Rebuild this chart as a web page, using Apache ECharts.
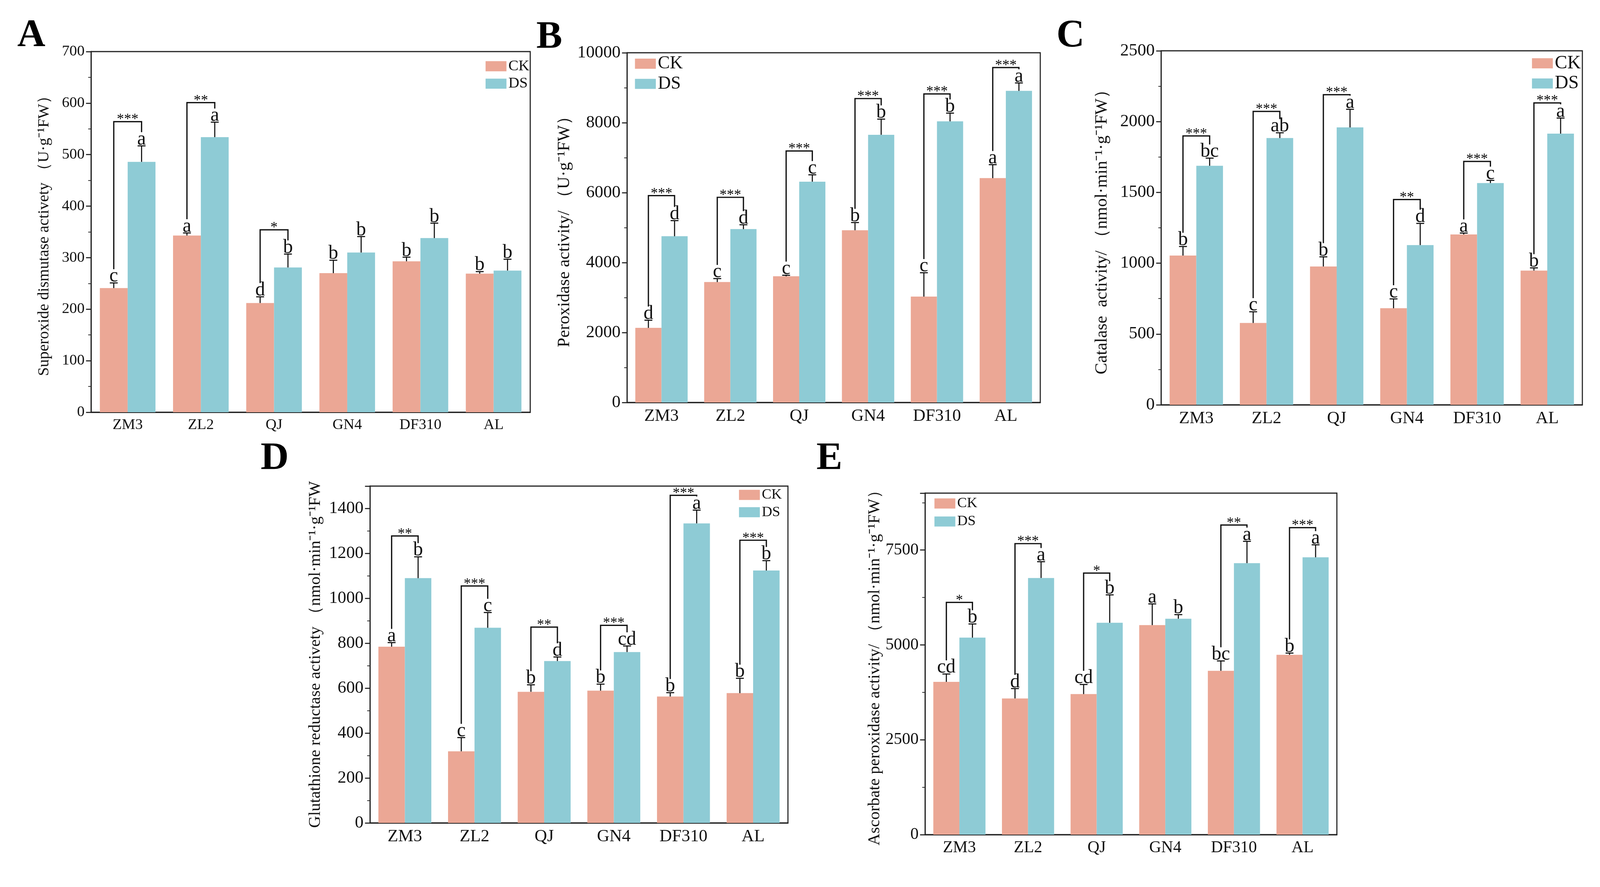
<!DOCTYPE html>
<html>
<head>
<meta charset="utf-8">
<title>Antioxidant enzyme activities</title>
<script src="https://cdn.jsdelivr.net/npm/echarts@6/dist/echarts.min.js"></script>
<style>
html, body { margin: 0; padding: 0; background: #fff; overflow: hidden; }
#main { width: 100vw; height: 100vh; }
</style>
</head>
<body>
<div id="main"></div>
<script>
var groups = ['ZM3', 'ZL2', 'QJ', 'GN4', 'DF310', 'AL'];

// A - superoxide dismutase
var sodCK = [241, 343, 212, 270, 293, 269];
var sodCKErr = [10, 5, 12, 25, 8, 4];
var sodDS = [486, 534, 281, 310, 338, 275];
var sodDSErr = [31, 29, 26, 31, 29, 22];
var sodCKLetter = ['c', 'a', 'd', 'b', 'b', 'b'];
var sodDSLetter = ['a', 'a', 'b', 'b', 'b', 'b'];
var sodSig = ['***', '**', '*', '', '', ''];
var sodBracket = [564, 601, 354, 0, 0, 0];

// B - peroxidase
var podCK = [2133, 3443, 3608, 4925, 3027, 6415];
var podCKErr = [220, 100, 30, 220, 683, 385];
var podDS = [4753, 4957, 6314, 7655, 8039, 8910];
var podDSErr = [447, 125, 196, 447, 235, 227];
var podCKLetter = ['d', 'c', 'c', 'b', 'c', 'a'];
var podDSLetter = ['d', 'd', 'c', 'b', 'b', 'a'];
var podSig = ['***', '***', '***', '***', '***', '***'];
var podBracket = [5914, 5866, 7192, 8690, 8823, 9576];

// C - catalase
var catCK = [1054, 578, 977, 682, 1203, 948];
var catCKErr = [64, 79, 68, 66, 10, 19];
var catDS = [1688, 1884, 1959, 1128, 1566, 1915];
var catDSErr = [54, 37, 128, 153, 19, 110];
var catCKLetter = ['b', 'c', 'b', 'c', 'a', 'b'];
var catDSLetter = ['bc', 'ab', 'a', 'd', 'c', 'a'];
var catSig = ['***', '***', '***', '**', '***', '***'];
var catBracket = [1899, 2072, 2190, 1450, 1719, 2132];

// D - glutathione reductase
var grCK = [785, 319, 584, 589, 563, 578];
var grCKErr = [18, 61, 31, 29, 17, 66];
var grDS = [1090, 869, 721, 761, 1334, 1124];
var grDSErr = [95, 68, 18, 27, 59, 44];
var grCKLetter = ['a', 'c', 'b', 'b', 'b', 'b'];
var grDSLetter = ['b', 'c', 'd', 'cd', 'a', 'b'];
var grSig = ['**', '***', '**', '***', '***', '***'];
var grBracket = [1278, 1055, 872, 880, 1459, 1259];

// E - ascorbate peroxidase
var apxCK = [4026, 3589, 3704, 5522, 4318, 4739];
var apxCKErr = [207, 261, 253, 559, 260, 46];
var apxDS = [5192, 6764, 5583, 5690, 7155, 7309];
var apxDSErr = [360, 429, 736, 108, 575, 329];
var apxCKLetter = ['cd', 'd', 'cd', 'a', 'bc', 'b'];
var apxDSLetter = ['b', 'a', 'b', 'b', 'a', 'a'];
var apxSig = ['*', '***', '*', '', '**', '***'];
var apxBracket = [6120, 7669, 6894, 0, 8160, 8091];

// y axes
var yMax = [700, 10000, 2500, 1500, 9000];
var yStep = [100, 2000, 500, 200, 2500];
var yNames = [
    'Superoxide dismutase activety （U·g⁻¹FW）',
    'Peroxidase activity/ （U·g⁻¹FW）',
    'Catalase  activity/ （nmol·min⁻¹·g⁻¹FW）',
    'Glutathione reductase activety （nmol·min⁻¹·g⁻¹FW',
    'Ascorbate peroxidase activity/ （nmol·min⁻¹·g⁻¹FW）'
];
var panelTags = ['A', 'B', 'C', 'D', 'E'];

var ckColor = '#EBA795';
var dsColor = '#8ECBD5';
var ink = '#111';
var serif = '"Liberation Serif", "Times New Roman", serif';

var panelData = [
    [sodCK, sodCKErr, sodDS, sodDSErr, sodCKLetter, sodDSLetter, sodSig, sodBracket],
    [podCK, podCKErr, podDS, podDSErr, podCKLetter, podDSLetter, podSig, podBracket],
    [catCK, catCKErr, catDS, catDSErr, catCKLetter, catDSLetter, catSig, catBracket],
    [grCK, grCKErr, grDS, grDSErr, grCKLetter, grDSLetter, grSig, grBracket],
    [apxCK, apxCKErr, apxDS, apxDSErr, apxCKLetter, apxDSLetter, apxSig, apxBracket]
];

// layout of each panel, in pixels of a 4445 x 2270 page
var layout = [
    {grid: [253, 132, 1220, 923], tag: [48, 42], font: 42, nameFont: 44, nameGap: 108, legend: [1349, 150], legFont: 42, legGap: 6},
    {grid: [1742, 135, 1148, 895], tag: [1490, 46], font: 48, nameFont: 48, nameGap: 150, legend: [1764, 140], legFont: 50, legGap: 6},
    {grid: [3226, 130, 1170, 906], tag: [2935, 42], font: 48, nameFont: 48, nameGap: 140, legend: [4256, 138], legFont: 52, legGap: 4},
    {grid: [1028, 1244, 1161, 862], tag: [724, 1124], font: 48, nameFont: 46, nameGap: 128, legend: [2053, 1248], legFont: 40, legGap: 8},
    {grid: [2570, 1262, 1144, 874], tag: [2268, 1124], font: 46, nameFont: 46, nameGap: 116, legend: [2596, 1270], legFont: 40, legGap: 10}
];

// scale everything to the real page size
var sx = window.innerWidth / 4445;
var sy = window.innerHeight / 2270;
var s = Math.min(sx, sy);

function errRender(side, letters) {
    return function (params, api) {
        var ci = api.value(0);
        var v = api.value(1);
        var e = api.value(2);
        var band = api.size([1, 0])[0];
        var top = api.coord([ci, v + e]);
        var base = api.coord([ci, v]);
        var x = top[0] + side * band * 0.19;
        return {
            type: 'group',
            children: [
                {type: 'line', shape: {x1: x, y1: base[1], x2: x, y2: top[1]}, style: {stroke: ink, lineWidth: 3 * s}},
                {type: 'line', shape: {x1: x - 11 * s, y1: top[1], x2: x + 11 * s, y2: top[1]}, style: {stroke: ink, lineWidth: 3 * s}},
                {type: 'text', x: x, y: top[1] + 9 * s, style: {text: letters[params.dataIndex], fill: ink, font: Math.round(54 * s) + 'px ' + serif, align: 'center', verticalAlign: 'bottom'}}
            ]
        };
    };
}

function bracketRender(sig) {
    return function (params, api) {
        var t = sig[params.dataIndex];
        if (!t) return null;
        var ci = api.value(0);
        var band = api.size([1, 0])[0];
        var yb = api.coord([ci, api.value(1)]);
        var yl = api.coord([ci, api.value(2)])[1] - 38 * s;
        var yr = api.coord([ci, api.value(3)])[1] - 38 * s;
        var xl = yb[0] - band * 0.19;
        var xr = yb[0] + band * 0.19;
        return {
            type: 'group',
            children: [
                {type: 'polyline', shape: {points: [[xl, yl], [xl, yb[1]], [xr, yb[1]], [xr, yr]]}, style: {stroke: ink, lineWidth: 3.5 * s, fill: null}},
                {type: 'text', x: (xl + xr) / 2, y: yb[1] + 15 * s, style: {text: t, fill: ink, font: Math.round(40 * s) + 'px ' + serif, align: 'center', verticalAlign: 'bottom'}}
            ]
        };
    };
}

function plainNumber(v) {
    return String(v);
}

var grids = [], xAxes = [], yAxes = [], series = [], titles = [], legends = [];

for (var i = 0; i < 5; i++) {
    var L = layout[i];
    var d = panelData[i];
    grids.push({left: L.grid[0] * sx, top: L.grid[1] * sy, width: L.grid[2] * sx, height: L.grid[3] * sy,
        show: true, borderColor: '#222', borderWidth: 3 * s, containLabel: false});
    xAxes.push({
        type: 'category', gridIndex: i, data: groups,
        axisLine: {lineStyle: {color: '#222', width: 3 * s}},
        axisTick: {alignWithLabel: true, length: 14 * s, lineStyle: {color: '#222', width: 3 * s}},
        axisLabel: {color: '#111', fontFamily: serif, fontSize: L.font * s, margin: 14 * s}
    });
    yAxes.push({
        type: 'value', gridIndex: i, min: 0, max: yMax[i], interval: yStep[i],
        name: yNames[i], nameLocation: 'middle', nameGap: L.nameGap * s,
        nameTextStyle: {color: '#111', fontFamily: serif, fontSize: L.nameFont * s},
        axisLine: {show: true, lineStyle: {color: '#222', width: 3 * s}},
        axisTick: {show: true, length: 14 * s, lineStyle: {color: '#222', width: 3 * s}},
        minorTick: {show: true, splitNumber: 2, length: 8 * s, lineStyle: {color: '#222', width: 2 * s}},
        splitLine: {show: false},
        axisLabel: {color: '#111', fontFamily: serif, fontSize: L.font * s, margin: 18 * s,
            formatter: plainNumber, showMaxLabel: yMax[i] % yStep[i] === 0}
    });
    titles.push({text: panelTags[i], left: L.tag[0] * sx, top: L.tag[1] * sy, padding: 0,
        textStyle: {fontSize: 108 * s, fontWeight: 'bold', fontFamily: serif, color: '#000'}});
    legends.push({
        data: ['CK', 'DS'], orient: 'vertical', left: L.legend[0] * sx, top: L.legend[1] * sy,
        itemWidth: 58 * s, itemHeight: 28 * s, itemGap: L.legGap * s, icon: 'rect', padding: 0,
        textStyle: {fontFamily: serif, fontSize: L.legFont * s, color: '#111'}
    });

    var ckErrData = [], dsErrData = [], brData = [];
    for (var k = 0; k < groups.length; k++) {
        ckErrData.push([k, d[0][k], d[1][k]]);
        dsErrData.push([k, d[2][k], d[3][k]]);
        brData.push([k, d[7][k], d[0][k] + d[1][k], d[2][k] + d[3][k]]);
    }

    series.push({name: 'CK', type: 'bar', xAxisIndex: i, yAxisIndex: i, data: d[0],
        barGap: '0%', barCategoryGap: '24%', itemStyle: {color: ckColor}});
    series.push({name: 'DS', type: 'bar', xAxisIndex: i, yAxisIndex: i, data: d[2],
        barGap: '0%', barCategoryGap: '24%', itemStyle: {color: dsColor}});
    series.push({name: 'ckErr' + i, type: 'custom', xAxisIndex: i, yAxisIndex: i, z: 5,
        renderItem: errRender(-1, d[4]), data: ckErrData, encode: {x: 0, y: 1}, silent: true});
    series.push({name: 'dsErr' + i, type: 'custom', xAxisIndex: i, yAxisIndex: i, z: 5,
        renderItem: errRender(1, d[5]), data: dsErrData, encode: {x: 0, y: 1}, silent: true});
    series.push({name: 'sig' + i, type: 'custom', xAxisIndex: i, yAxisIndex: i, z: 6,
        renderItem: bracketRender(d[6]), data: brData, encode: {x: 0, y: 1}, silent: true});
}

var chart = echarts.init(document.getElementById('main'), null, {renderer: 'canvas'});
chart.setOption({
    backgroundColor: '#fff',
    animation: false,
    title: titles,
    legend: legends,
    grid: grids,
    xAxis: xAxes,
    yAxis: yAxes,
    series: series
});
</script>
</body>
</html>
